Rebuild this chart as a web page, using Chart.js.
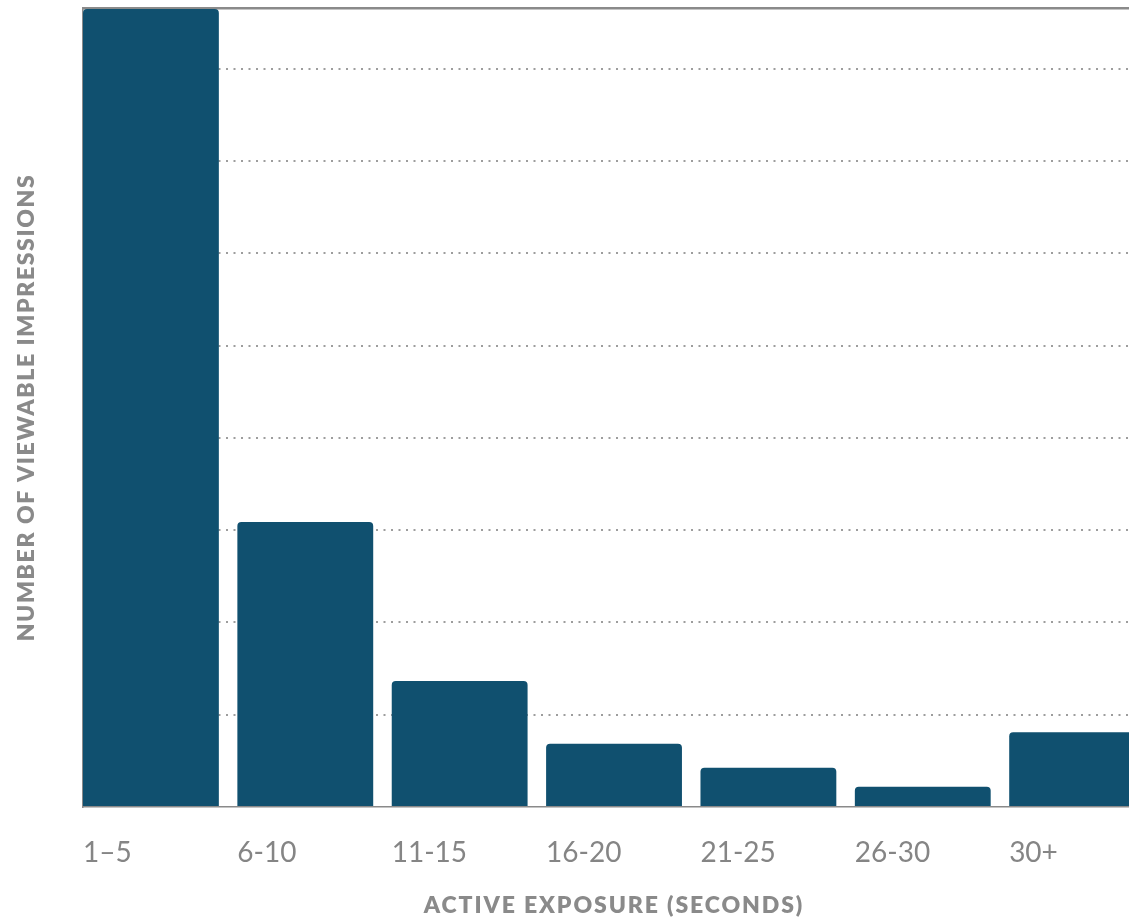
<!DOCTYPE html>
<html lang="en">
<head>
    <meta charset="UTF-8">
    <title>Active Exposure</title>
    <script src="https://cdn.jsdelivr.net/npm/chart.js"></script>
    <style>
        html, body { margin: 0; padding: 0; background: #fff; overflow: hidden; }
        .chart-box { position: relative; width: 1129px; height: 920px; }
    </style>
</head>
<body>
    <div class="chart-box">
        <canvas id="exposureChart"></canvas>
    </div>

    <script>
        // Exposure buckets and impression counts (one grid step = one unit)
        const categories = ['1–5', '6-10', '11-15', '16-20', '21-25', '26-30', '30+'];
        const impressions = [8.65, 3.09, 1.365, 0.685, 0.425, 0.22, 0.81];
        const yMax = 8.66;
        const xTitle = 'ACTIVE EXPOSURE (SECONDS)';
        const yTitle = 'NUMBER OF VIEWABLE IMPRESSIONS';

        const barColor = '#10506f';
        const axisGray = '#8a8a8a';
        const gridGray = '#9d9d9d';
        const labelGray = '#858585';
        const titleGray = '#8a8a8a';
        const barShare = 0.88;

        // Rotated y title and centred x title, letter-spaced
        const axisTitles = {
            id: 'axisTitles',
            afterDraw(chart) {
                const { ctx, chartArea, scales } = chart;
                const x = scales.x;
                const xMid = (x.getPixelForValue(-0.5) + x.getPixelForValue(categories.length - 0.5)) / 2;
                ctx.save();
                ctx.fillStyle = titleGray;
                ctx.font = '800 23px Lato';
                ctx.letterSpacing = '1.9px';
                ctx.textAlign = 'center';
                ctx.textBaseline = 'middle';
                ctx.fillText(xTitle, xMid, 906);
                ctx.letterSpacing = '1.6px';
                ctx.translate(27, (chartArea.top + chartArea.bottom) / 2);
                ctx.rotate(-Math.PI / 2);
                ctx.fillText(yTitle, 0, 0);
                ctx.restore();
            }
        };

        const ctx = document.getElementById('exposureChart').getContext('2d');
        new Chart(ctx, {
            type: 'bar',
            data: {
                datasets: [{
                    data: impressions.map((v, i) => ({ x: i, y: v })),
                    backgroundColor: barColor,
                    borderRadius: 4,
                    categoryPercentage: 1,
                    barPercentage: barShare
                }]
            },
            options: {
                responsive: true,
                maintainAspectRatio: false,
                animation: false,
                layout: { padding: 0 },
                plugins: {
                    legend: { display: false },
                    tooltip: { enabled: false }
                },
                scales: {
                    x: {
                        type: 'linear',
                        offset: false,
                        min: -barShare / 2,
                        max: 6.336,
                        grid: { display: false, offset: false },
                        border: { color: axisGray, width: 1.5 },
                        ticks: {
                            stepSize: 1,
                            includeBounds: false,
                            autoSkip: false,
                            maxRotation: 0,
                            align: 'start',
                            labelOffset: -68,
                            padding: 21,
                            color: labelGray,
                            font: { family: 'Lato', size: 28 },
                            callback: v => categories[v] ?? ''
                        },
                        afterFit: s => {
                            s.height = 113;
                            s.paddingLeft = 0;
                            s.paddingRight = 0;
                        }
                    },
                    top: {
                        type: 'linear',
                        position: 'top',
                        grid: { display: false, drawTicks: false },
                        ticks: { display: false },
                        border: { color: axisGray, width: 2.5 },
                        afterFit: s => {
                            s.height = 8;
                            s.paddingLeft = 0;
                            s.paddingRight = 0;
                        }
                    },
                    y: {
                        min: 0,
                        max: yMax,
                        grid: {
                            color: c => c.tick && c.tick.value === 0 ? 'rgba(0,0,0,0)' : gridGray,
                            lineWidth: 2,
                            drawTicks: false
                        },
                        border: { color: axisGray, width: 1.5, dash: [2, 5.5] },
                        ticks: { display: false, stepSize: 1, includeBounds: false },
                        afterFit: s => { s.width = 83; }
                    }
                }
            },
            plugins: [axisTitles]
        });
    </script>
</body>
</html>
